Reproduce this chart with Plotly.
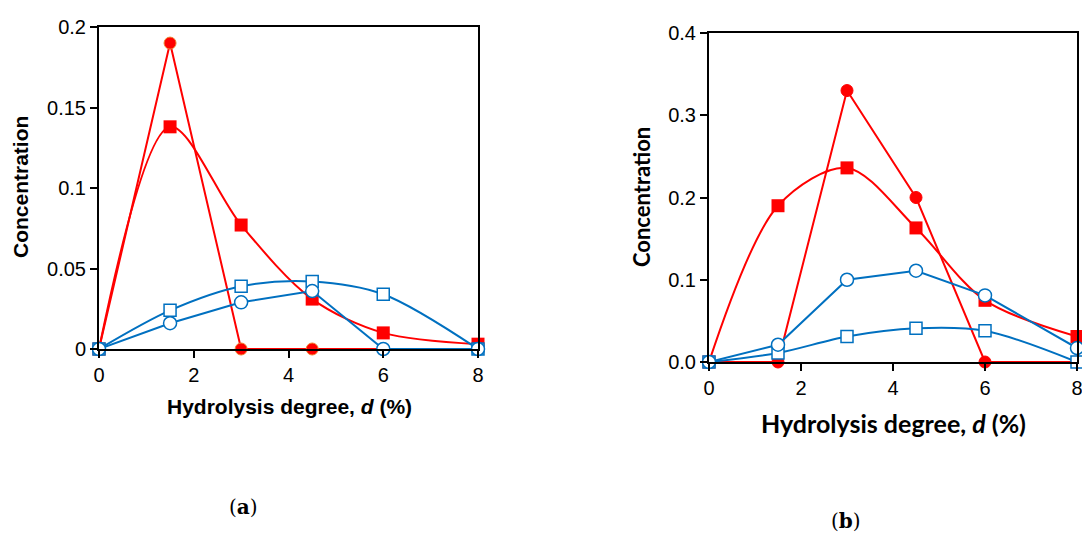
import plotly.graph_objects as go

x_vals = [0, 1.5, 3, 4.5, 6, 8]

# Panel (a)
a_red_circle = [0, 0.190, 0, 0, 0, 0]
a_red_square = [0, 0.138, 0.077, 0.031, 0.010, 0.003]
a_blue_square = [0, 0.024, 0.039, 0.042, 0.034, 0]
a_blue_circle = [0, 0.016, 0.029, 0.036, 0, 0]

# Panel (b)
b_red_circle = [0, 0, 0.330, 0.200, 0, 0]
b_red_square = [0, 0.190, 0.236, 0.163, 0.075, 0.031]
b_blue_square = [0, 0.011, 0.031, 0.041, 0.038, 0]
b_blue_circle = [0, 0.021, 0.100, 0.111, 0.081, 0.017]

x_ticks = [0, 2, 4, 6, 8]
a_y_ticks = [0, 0.05, 0.1, 0.15, 0.2]
a_y_ticktext = ["0", "0.05", "0.1", "0.15", "0.2"]
b_y_ticks = [0, 0.1, 0.2, 0.3, 0.4]
b_y_ticktext = ["0.0", "0.1", "0.2", "0.3", "0.4"]

RED = "#FF0000"
BLUE = "#0070C0"

fig = go.Figure()

for xa, ya, rc, rs, bs, bc, rc_edge in [
        ("x", "y", a_red_circle, a_red_square, a_blue_square, a_blue_circle, "#F08030"),
        ("x2", "y2", b_red_circle, b_red_square, b_blue_square, b_blue_circle, RED)]:
    fig.add_trace(go.Scatter(
        x=x_vals, y=rc, xaxis=xa, yaxis=ya, mode="lines+markers",
        line=dict(color=RED, width=2),
        marker=dict(symbol="circle", size=12, color=RED, line=dict(color=rc_edge, width=1)),
        cliponaxis=False, showlegend=False))
    fig.add_trace(go.Scatter(
        x=x_vals, y=rs, xaxis=xa, yaxis=ya, mode="lines+markers",
        line=dict(color=RED, width=2, shape="spline", smoothing=0.9),
        marker=dict(symbol="square", size=13, color=RED, line=dict(color=RED, width=0)),
        cliponaxis=False, showlegend=False))
    fig.add_trace(go.Scatter(
        x=x_vals, y=bs, xaxis=xa, yaxis=ya, mode="lines+markers",
        line=dict(color=BLUE, width=2, shape="spline", smoothing=0.9),
        marker=dict(symbol="square", size=12, color="white", line=dict(color=BLUE, width=1.5)),
        cliponaxis=False, showlegend=False))
    fig.add_trace(go.Scatter(
        x=x_vals, y=bc, xaxis=xa, yaxis=ya, mode="lines+markers",
        line=dict(color=BLUE, width=2),
        marker=dict(symbol="circle", size=13, color="white", line=dict(color=BLUE, width=1.5)),
        cliponaxis=False, showlegend=False))

W, H = 1082, 534


def px_x(p):
    return p / W


def px_y(p):
    return 1 - p / H


axis_common = dict(showline=True, linecolor="black", linewidth=2, mirror=True,
                   ticks="outside", ticklen=7, tickwidth=1.5, tickcolor="black",
                   showgrid=False, zeroline=False, automargin=False,
                   ticklabeloverflow="allow",
                   tickfont=dict(family="Liberation Sans, Arial", size=20, color="black"))

fig.update_layout(
    width=W, height=H, autosize=False,
    margin=dict(l=0, r=0, t=0, b=0, pad=0),
    paper_bgcolor="white", plot_bgcolor="white",
    xaxis=dict(domain=[px_x(99), px_x(478)], range=[0, 8], tickvals=x_ticks,
               anchor="y", **axis_common),
    yaxis=dict(domain=[px_y(349), px_y(27)], range=[0, 0.2], tickvals=a_y_ticks,
               ticktext=a_y_ticktext, anchor="x", **axis_common),
    xaxis2=dict(domain=[px_x(709), px_x(1077)], range=[0, 8], tickvals=x_ticks,
                anchor="y2", **axis_common),
    yaxis2=dict(domain=[px_y(362), px_y(33)], range=[0, 0.4], tickvals=b_y_ticks,
                ticktext=b_y_ticktext, anchor="x2", **axis_common),
)

annotations = [
    dict(text="<b>Concentration</b>", x=px_x(20), y=px_y(187), textangle=-90,
         font=dict(family="Liberation Sans, Arial", size=21, color="black")),
    dict(text="<b>Hydrolysis degree, <i>d</i> (%)</b>", x=px_x(289), y=px_y(406),
         font=dict(family="Liberation Sans, Arial", size=21, color="black")),
    dict(text="<b>Concentration</b>", x=px_x(641), y=px_y(197), textangle=-90,
         font=dict(family="Lato, Carlito, sans-serif", size=22, color="black")),
    dict(text="<b>Hydrolysis degree, <i>d</i> (%)</b>", x=px_x(893), y=px_y(423),
         font=dict(family="Lato, Carlito, sans-serif", size=25, color="black")),
    dict(text="(<b>a</b>)", x=px_x(243), y=px_y(507),
         font=dict(family="DejaVu Serif, Liberation Serif, serif", size=20, color="black")),
    dict(text="(<b>b</b>)", x=px_x(846), y=px_y(521),
         font=dict(family="DejaVu Serif, Liberation Serif, serif", size=20, color="black")),
]
for a in annotations:
    a.update(xref="paper", yref="paper", showarrow=False, xanchor="center", yanchor="middle")
fig.update_layout(annotations=annotations)

fig.write_html("out.html",
               config={"displayModeBar": False},
               post_script="document.body.style.margin='0px';"
                           "document.body.style.overflow='hidden';")
